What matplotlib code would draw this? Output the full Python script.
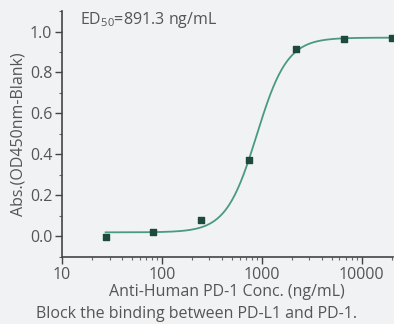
import numpy as np
import matplotlib
matplotlib.use("Agg")
from matplotlib import pyplot as plt
from matplotlib.ticker import LogLocator, MultipleLocator, NullFormatter

# measured points
conc = [27.4, 82.3, 247, 741, 2222, 6667, 20000]
absorb = [-0.005, 0.021, 0.08, 0.373, 0.914, 0.963, 0.968]

# 4PL fit parameters
bottom, top, ec50, hill = 0.02, 0.97, 891.3, 2.84

bg = "#f1f2f4"
txt = "#555555"
fnt = 'Open Sans'
fs = 11.5
plt.rcParams['font.family'] = [fnt, 'DejaVu Sans']
plt.rcParams['mathtext.fontset'] = 'custom'
plt.rcParams['mathtext.rm'] = fnt
plt.rcParams['mathtext.it'] = fnt

fig = plt.figure(figsize=(3.94, 3.24), dpi=100, facecolor=bg)
ax = fig.add_axes([0.157, 0.207, 0.84, 0.759], facecolor=bg)

xs = np.logspace(np.log10(conc[0]), np.log10(conc[-1]), 300)
ys = bottom + (top - bottom) / (1 + (ec50 / xs) ** hill)
ax.plot(xs, ys, color="#4a9a80", lw=1.3, zorder=2)
ax.scatter(conc, absorb, marker="s", s=16, color="#1d4a3a", zorder=3)

ax.set_xscale("log")
ax.set_xlim(10, 20500)
ax.set_ylim(-0.1, 1.1)
ax.xaxis.set_minor_locator(LogLocator(base=10, subs=np.arange(2, 10), numticks=20))
ax.xaxis.set_minor_formatter(NullFormatter())
ax.set_xticks([10, 100, 1000, 10000])
ax.set_xticklabels(["10", "100", "1000", "10000"])
ax.yaxis.set_minor_locator(MultipleLocator(0.1))
ax.set_yticks([0.0, 0.2, 0.4, 0.6, 0.8, 1.0])
ax.set_yticklabels(["0.0", "0.2", "0.4", "0.6", "0.8", "1.0"])

for s in ["top", "right"]:
    ax.spines[s].set_visible(False)
for s in ["left", "bottom"]:
    ax.spines[s].set_color("#444444")
    ax.spines[s].set_linewidth(1.2)
ax.tick_params(which="major", length=5, width=1, color="#444444", labelsize=fs, labelcolor=txt, pad=2)
ax.tick_params(which="minor", length=2.5, width=0.8, color="#666666")

ax.set_xlabel("Anti-Human PD-1 Conc. (ng/mL)", fontsize=fs, color=txt, labelpad=1)
ax.set_ylabel("Abs.(OD450nm-Blank)", fontsize=fs, color=txt, labelpad=2)
ax.text(0.055, 0.965, r"ED$_{50}$=891.3 ng/mL", transform=ax.transAxes, fontsize=fs,
        color=txt, va="center", ha="left")
fig.text(0.5, 0.03, "Block the binding between PD-L1 and PD-1.", fontsize=fs,
         color=txt, ha="center", va="center")

fig.savefig("out.png", dpi=100, facecolor=bg)
